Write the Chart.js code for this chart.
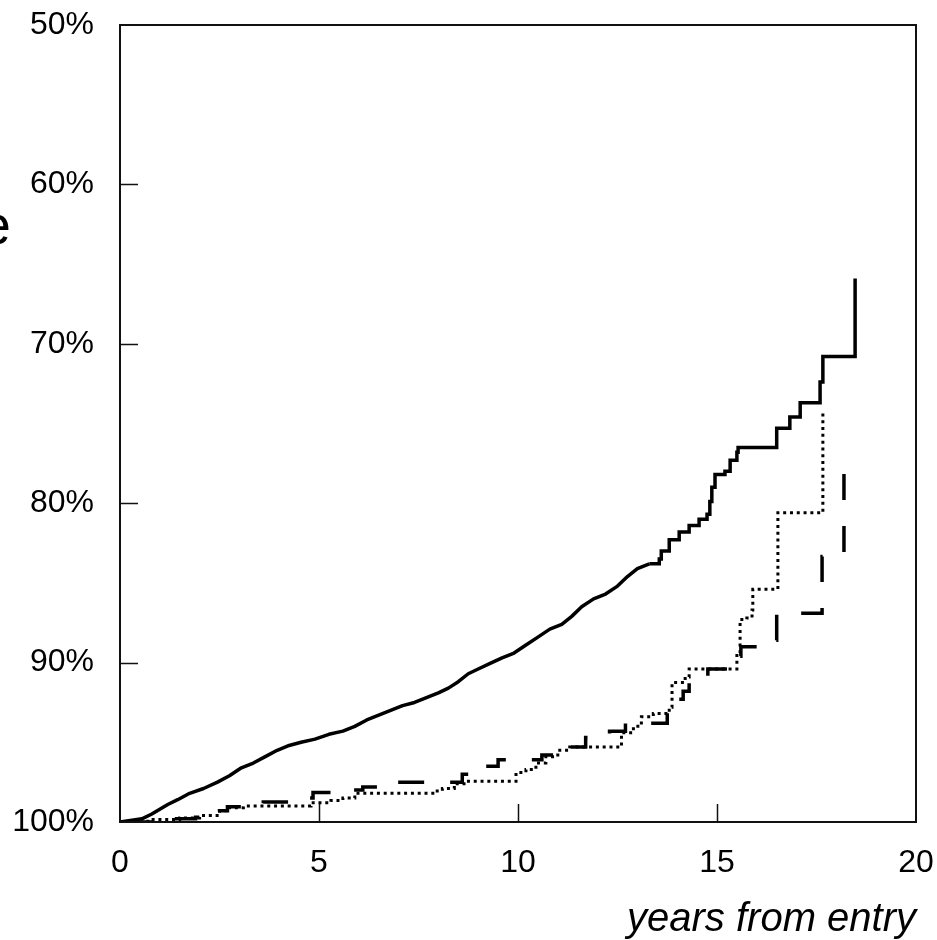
<!DOCTYPE html>
<html>
<head>
<meta charset="utf-8">
<script src="https://cdn.jsdelivr.net/npm/chart.js@4.4.1/dist/chart.umd.min.js"></script>
<style>
  html, body { margin: 0; padding: 0; background: #fff; }
  #wrap { position: relative; width: 937px; height: 940px; overflow: hidden; }
</style>
</head>
<body>
<div id="wrap"><canvas id="chart" width="937" height="940"></canvas></div>
<script>
// Kaplan-Meier style survival, years from entry vs percent surviving.
// The solid group has many small events early on, so that part is drawn as a
// plain line; its later, sparse events are drawn as steps.
const solidEarlyYears = [0, 0.55, 0.8, 1.0, 1.2, 1.45, 1.75, 2.1, 2.45, 2.75,
  3.05, 3.35, 3.65, 3.95, 4.25, 4.55, 4.9, 5.25, 5.6, 5.9,
  6.2, 6.5, 6.8, 7.1, 7.4, 7.7, 8.0, 8.25, 8.5, 8.75,
  9.0, 9.3, 9.6, 9.9, 10.2, 10.5, 10.8, 11.1, 11.35, 11.6,
  11.9, 12.2, 12.5, 12.75, 13.0, 13.3];
const solidEarlyPct = [100, 99.8, 99.5, 99.2, 98.9, 98.6, 98.2, 97.9, 97.5, 97.1,
  96.6, 96.3, 95.9, 95.5, 95.2, 95.0, 94.8, 94.5, 94.3, 94.0,
  93.6, 93.3, 93.0, 92.7, 92.5, 92.2, 91.9, 91.6, 91.2, 90.7,
  90.4, 90.05, 89.7, 89.4, 88.9, 88.4, 87.9, 87.6, 87.1, 86.5,
  86.0, 85.7, 85.2, 84.6, 84.1, 83.8];
const solidLateYears = [13.3, 13.55, 13.6, 13.8, 14.05,
  14.3, 14.55, 14.75, 14.82, 14.87, 14.95, 15.2, 15.33, 15.5, 15.53,
  16.5, 16.83, 17.09, 17.59, 17.66, 18.47];
const solidLatePct = [83.8, 83.5, 83.0, 82.3, 81.8,
  81.4, 81.0, 80.7, 79.9, 79.0, 78.2, 78.0, 77.3, 76.8, 76.5,
  75.3, 74.6, 73.7, 72.4, 70.8, 65.9];

const dotYears = [0, 0.7, 1.5, 2.0, 2.5, 2.75, 3.1, 4.8, 5.3, 5.6,
  5.9, 7.9, 8.1, 8.4, 8.7, 9.95, 10.2, 10.45, 10.7, 11.0,
  11.3, 12.6, 12.9, 13.1, 13.4, 13.8, 13.87, 14.2, 14.3, 15.5,
  15.58, 15.75, 15.88, 15.9, 16.53, 17.66];
const dotPct = [100, 99.85, 99.75, 99.6, 99.3, 99.1, 99.0, 98.8, 98.65, 98.5,
  98.2, 98.05, 97.9, 97.6, 97.45, 96.9, 96.7, 96.3, 95.9, 95.5,
  95.3, 94.4, 94.0, 93.4, 93.2, 92.8, 91.25, 90.9, 90.4, 89.4,
  87.3, 87.2, 86.7, 85.4, 80.6, 74.3];

const dashYears = [0, 1.2, 1.9, 2.5, 2.7, 3.6, 4.6, 4.85, 5.4, 6.1,
  6.5, 8.6, 8.9, 9.5, 10.6, 11.0, 11.7, 12.0, 12.3, 12.7,
  13.75, 14.0, 14.15, 14.3, 14.77, 15.3, 15.6, 16.25, 16.5, 17.64,
  18.19];
const dashPct = [100, 99.8, 99.7, 99.3, 99.05, 98.75, 98.5, 98.15, 98.0, 97.8,
  97.5, 97.0, 96.5, 96.1, 95.8, 95.3, 94.7, 94.5, 94.3, 93.8,
  92.8, 92.3, 91.8, 91.25, 90.4, 89.6, 89.0, 88.6, 86.9, 83.35,
  77.8];

const xTickMarks = [5, 10, 15];
const yTickMarks = [60, 70, 80, 90];

const FONT = '"Liberation Sans", Arial, sans-serif';

function pairs(xs, ys) {
  return xs.map((x, i) => ({ x, y: ys[i] }));
}

// box around the plot, inward tick marks, and the clipped letter on the left
const frame = {
  id: 'frame',
  afterDatasetsDraw(chart) {
    const { ctx, chartArea: a, scales: { x, y } } = chart;
    ctx.save();
    ctx.strokeStyle = '#111';
    ctx.lineWidth = 2;
    ctx.strokeRect(a.left, a.top, a.right - a.left, a.bottom - a.top);
    ctx.beginPath();
    yTickMarks.forEach(v => {
      const py = Math.round(y.getPixelForValue(v)) + 0.5;
      ctx.moveTo(a.left, py);
      ctx.lineTo(a.left + 18, py);
    });
    xTickMarks.forEach(v => {
      const px = Math.round(x.getPixelForValue(v)) + 0.5;
      ctx.moveTo(px, a.bottom);
      ctx.lineTo(px, a.bottom - 18);
    });
    ctx.lineWidth = 1.5;
    ctx.stroke();
    ctx.fillStyle = '#000';
    ctx.font = '56px ' + FONT;
    ctx.textAlign = 'right';
    ctx.textBaseline = 'alphabetic';
    ctx.fillText('e', 11, 244);
    ctx.restore();
  }
};

const tickFont = { family: FONT, size: 32 };
const solidStyle = { borderColor: '#000', borderWidth: 3.5, pointRadius: 0, borderJoinStyle: 'round' };

new Chart(document.getElementById('chart'), {
  type: 'line',
  data: {
    datasets: [
      { ...solidStyle, data: pairs(solidEarlyYears, solidEarlyPct) },
      { ...solidStyle, data: pairs(solidLateYears, solidLatePct), stepped: true, borderJoinStyle: 'miter' },
      {
        data: pairs(dotYears, dotPct),
        borderColor: '#000',
        borderWidth: 3,
        borderDash: [3, 3.8],
        stepped: true,
        pointRadius: 0
      },
      {
        data: pairs(dashYears, dashPct),
        borderColor: '#000',
        borderWidth: 3.5,
        borderDash: [26, 26],
        borderDashOffset: -6,
        stepped: true,
        pointRadius: 0
      }
    ]
  },
  options: {
    responsive: false,
    animation: false,
    layout: { padding: { top: 25, right: 21, left: 0, bottom: 0 } },
    plugins: { legend: { display: false }, tooltip: { enabled: false } },
    scales: {
      x: {
        type: 'linear',
        min: 0,
        max: 20,
        ticks: { stepSize: 5, padding: 22, font: tickFont, color: '#000', maxRotation: 0 },
        grid: { display: false, drawTicks: false },
        border: { display: false },
        title: {
          display: true,
          text: 'years from entry',
          align: 'end',
          color: '#000',
          padding: 0,
          font: { family: FONT, size: 40, style: 'italic', lineHeight: 1 }
        },
        afterFit(s) {
          s.height = 118;
          s.paddingLeft = 0;
          s.paddingRight = 0;
        }
      },
      y: {
        type: 'linear',
        reverse: true,
        min: 50,
        max: 100,
        ticks: { stepSize: 10, padding: 26, font: tickFont, color: '#000', callback: v => v + '%' },
        grid: { display: false, drawTicks: false },
        border: { display: false },
        afterFit(s) {
          s.width = 120;
          s.paddingTop = 0;
          s.paddingBottom = 0;
        }
      }
    }
  },
  plugins: [frame]
});
</script>
</body>
</html>
